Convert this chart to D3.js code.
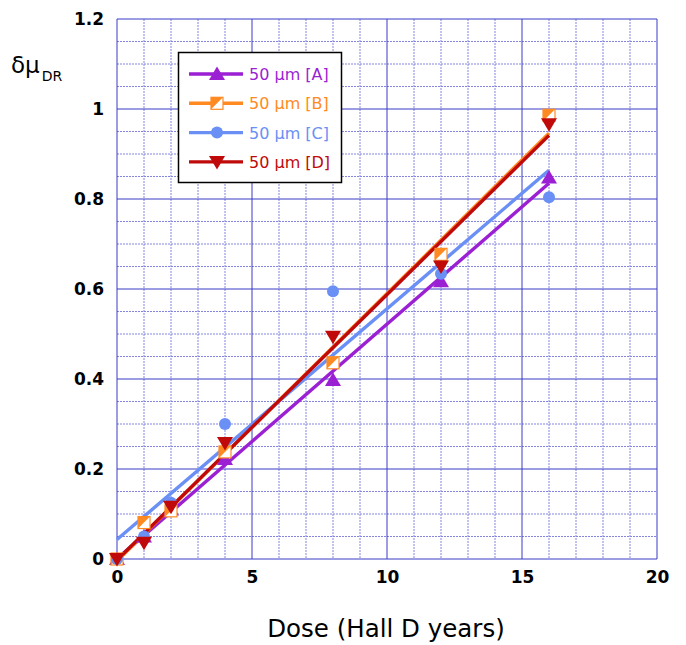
<!DOCTYPE html>
<html>
<head>
<meta charset="utf-8">
<script src="https://cdn.jsdelivr.net/npm/d3@7"></script>
<style>
  html, body { margin: 0; padding: 0; background: #fff; }
  svg { display: block; }
  text { font-family: "DejaVu Sans", sans-serif; }
</style>
</head>
<body>
<svg id="chart" width="686" height="645"></svg>
<script>
// Dose in Hall D years
const doses = [0, 1, 2, 4, 8, 12, 16];

// delta mu_DR for each 50 µm sample
const seriesA = [0, 0.05, 0.11, 0.222, 0.398, 0.617, 0.848];
const seriesB = [0, 0.081, 0.107, 0.238, 0.436, 0.677, 0.986];
const seriesC = [0, 0.05, 0.125, 0.30, 0.595, 0.634, 0.804];
const seriesD = [0, 0.036, 0.116, 0.258, 0.494, 0.650, 0.966];

const seriesNames = ["50 µm [A]", "50 µm [B]", "50 µm [C]", "50 µm [D]"];
const seriesColors = ["#9b1fd3", "#ff8a22", "#6a8ff5", "#c00a0a"];
const seriesMarkers = ["triUp", "halfSquare", "circle", "triDown"];

const xTicks = [0, 5, 10, 15, 20];
const yTicks = [0, 0.2, 0.4, 0.6, 0.8, 1, 1.2];

const allSeries = [seriesA, seriesB, seriesC, seriesD].map((vals, i) => ({
  name: seriesNames[i], color: seriesColors[i], marker: seriesMarkers[i],
  points: doses.map((d, j) => ({ x: d, y: vals[j] }))
}));

// Least-squares straight line through each series
function linearFit(pts) {
  const mx = d3.mean(pts, p => p.x), my = d3.mean(pts, p => p.y);
  const sxy = d3.sum(pts, p => (p.x - mx) * (p.y - my));
  const sxx = d3.sum(pts, p => (p.x - mx) * (p.x - mx));
  const slope = sxy / sxx;
  return { slope, intercept: my - slope * mx };
}

const svg = d3.select("#chart");
const plotLeft = 117, plotRight = 657, plotTop = 19, plotBottom = 559;

const x = d3.scaleLinear().domain([0, 20]).range([plotLeft, plotRight]);
const y = d3.scaleLinear().domain([0, 1.2]).range([plotBottom, plotTop]);

// Grid: dotted minor lines, solid major lines
const grid = svg.append("g");
grid.selectAll(".vminor").data(d3.range(0, 21, 1).filter(v => v % 5 !== 0)).join("line")
  .attr("x1", d => x(d)).attr("x2", d => x(d)).attr("y1", plotTop).attr("y2", plotBottom)
  .attr("stroke", "#8585de").attr("stroke-width", 1).attr("stroke-dasharray", "2,1");
grid.selectAll(".hminor").data(d3.range(0, 24).map(i => i * 0.05).filter((v, i) => i % 4 !== 0)).join("line")
  .attr("x1", plotLeft).attr("x2", plotRight).attr("y1", d => y(d)).attr("y2", d => y(d))
  .attr("stroke", "#8585de").attr("stroke-width", 1).attr("stroke-dasharray", "2,1");
grid.selectAll(".vmajor").data(xTicks).join("line")
  .attr("x1", d => x(d)).attr("x2", d => x(d)).attr("y1", plotTop).attr("y2", plotBottom)
  .attr("stroke", "#3a3ac6").attr("stroke-width", 1);
grid.selectAll(".hmajor").data(yTicks).join("line")
  .attr("x1", plotLeft).attr("x2", plotRight).attr("y1", d => y(d)).attr("y2", d => y(d))
  .attr("stroke", "#3a3ac6").attr("stroke-width", 1);

// Axes (labels only; the frame is part of the grid)
const yAxis = svg.append("g").attr("transform", `translate(${plotLeft},0)`)
  .call(d3.axisLeft(y).tickValues(yTicks).tickSize(0).tickPadding(13).tickFormat(d3.format("~g")));
yAxis.select(".domain").remove();
yAxis.selectAll("text").attr("font-size", 17).attr("font-weight", "bold").attr("fill", "#000")
  .style("font-family", "'DejaVu Sans', sans-serif");

const xAxis = svg.append("g").attr("transform", `translate(0,${plotBottom})`)
  .call(d3.axisBottom(x).tickValues(xTicks).tickSize(0).tickPadding(12).tickFormat(d3.format("d")));
xAxis.select(".domain").remove();
xAxis.selectAll("text").attr("font-size", 17).attr("font-weight", "bold").attr("fill", "#000")
  .style("font-family", "'DejaVu Sans', sans-serif");

// Axis titles
svg.append("text").attr("x", 386).attr("y", 637).attr("text-anchor", "middle")
  .attr("font-size", 24.5).attr("fill", "#000").text("Dose (Hall D years)");
const yTitle = svg.append("text").attr("x", 11).attr("y", 73).attr("font-size", 23).attr("fill", "#000");
yTitle.append("tspan").text("δμ");
yTitle.append("tspan").attr("dy", 8).attr("dx", 2).attr("font-size", 14).text("DR");

// Marker shapes
function drawMarker(g, type, color, cx, cy) {
  if (type === "triUp") {
    g.append("path").attr("d", `M${cx},${cy - 7.5}L${cx + 8},${cy + 6}L${cx - 8},${cy + 6}Z`).attr("fill", color);
  } else if (type === "triDown") {
    g.append("path").attr("d", `M${cx - 8},${cy - 6}L${cx + 8},${cy - 6}L${cx},${cy + 7.5}Z`).attr("fill", color);
  } else if (type === "circle") {
    g.append("circle").attr("cx", cx).attr("cy", cy).attr("r", 6).attr("fill", color);
  } else {
    const s = 6;
    g.append("rect").attr("x", cx - s).attr("y", cy - s).attr("width", 2 * s).attr("height", 2 * s)
      .attr("fill", "#fff").attr("stroke", color).attr("stroke-width", 1.2);
    g.append("path").attr("d", `M${cx - s},${cy - s}L${cx + s},${cy - s}L${cx - s},${cy + s}Z`).attr("fill", color);
  }
}

// Fit lines
const lines = svg.append("g");
allSeries.forEach(s => {
  const f = linearFit(s.points);
  const x0 = d3.min(s.points, p => p.x), x1 = d3.max(s.points, p => p.x);
  lines.append("line")
    .attr("x1", x(x0)).attr("y1", y(f.intercept + f.slope * x0))
    .attr("x2", x(x1)).attr("y2", y(f.intercept + f.slope * x1))
    .attr("stroke", s.color).attr("stroke-width", 3.4);
});

// Data markers
const marks = svg.append("g");
allSeries.forEach(s => {
  s.points.forEach(p => drawMarker(marks, s.marker, s.color, x(p.x), y(p.y)));
});

// Legend
const lg = svg.append("g");
lg.append("rect").attr("x", 178.5).attr("y", 52.5).attr("width", 163).attr("height", 130)
  .attr("fill", "#fff").attr("stroke", "#000").attr("stroke-width", 1.5);
allSeries.forEach((s, i) => {
  const ly = 74 + i * 29.3;
  lg.append("line").attr("x1", 189).attr("x2", 243).attr("y1", ly).attr("y2", ly)
    .attr("stroke", s.color).attr("stroke-width", 3.4);
  drawMarker(lg, s.marker, s.color, 217, ly);
  lg.append("text").attr("x", 249).attr("y", ly + 6).attr("font-size", 16).attr("fill", s.color).text(s.name);
});
</script>
</body>
</html>
